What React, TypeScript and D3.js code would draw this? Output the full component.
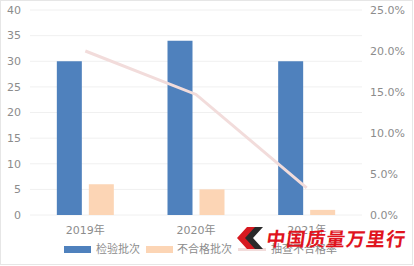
import React from "react";
import * as d3 from "d3";

const categories = ["2019年", "2020年", "2021年"];
const inspected = [30, 34, 30];
const failed = [6, 5, 1];
const failRate = [0.2, 0.147, 0.033];
const leftTicks = [0, 5, 10, 15, 20, 25, 30, 35, 40];
const rightTicks = [0, 0.05, 0.1, 0.15, 0.2, 0.25];
const seriesNames = ["检验批次", "不合格批次", "抽查不合格率"];
const colors = ["#4f81bd", "#fcd5b5", "#f2dcdb"];

const W = 414, H = 266;
const plot = { left: 30, right: 362, top: 10, bottom: 215 };
const font = "'DejaVu Sans', 'Noto Sans CJK SC', sans-serif";
const textColor = "#8c8c8c";

export default function App() {
  const x = d3.scaleBand().domain(categories).range([plot.left, plot.right]);
  const yL = d3.scaleLinear().domain([0, 40]).range([plot.bottom, plot.top]);
  const yR = d3.scaleLinear().domain([0, 0.25]).range([plot.bottom, plot.top]);
  const barW = 25, gap = 7;
  const line = d3
    .line<number>()
    .x((_, i) => (x(categories[i]) as number) + x.bandwidth() / 2)
    .y((d) => yR(d));
  const fmt = d3.format(".1%");

  const legendItems = [
    { x: 64, textX: 96 },
    { x: 146, textX: 177 },
    { x: 238, textX: 271 },
  ];

  return (
    <svg width={W} height={H} style={{ position: "absolute", left: 0, top: 0 }}>
      <rect x={0} y={0} width={W} height={H} fill="#fff" />
      <rect x={0.5} y={0.5} width={412} height={264} fill="none" stroke="#e6e6e6" />
      {leftTicks.map((t) => (
        <g key={"l" + t}>
          <line x1={plot.left} x2={plot.right} y1={yL(t)} y2={yL(t)} stroke="#f0f0f0" />
          <text x={21} y={yL(t)} dy="0.35em" textAnchor="end" fontSize={11} fill={textColor} fontFamily={font}>
            {t}
          </text>
        </g>
      ))}
      {rightTicks.map((t) => (
        <text key={"r" + t} x={370} y={yR(t)} dy="0.35em" fontSize={11} fill={textColor} fontFamily={font}>
          {fmt(t)}
        </text>
      ))}
      {categories.map((c, i) => {
        const cx = (x(c) as number) + x.bandwidth() / 2;
        return (
          <g key={c}>
            <rect x={cx - gap / 2 - barW} y={yL(inspected[i])} width={barW} height={plot.bottom - yL(inspected[i])} fill={colors[0]} />
            <rect x={cx + gap / 2} y={yL(failed[i])} width={barW} height={plot.bottom - yL(failed[i])} fill={colors[1]} />
            <text x={cx} y={230} dy="0.35em" textAnchor="middle" fontSize={11} fill={textColor} fontFamily={font}>
              {c}
            </text>
          </g>
        );
      })}
      <path d={line(failRate) as string} fill="none" stroke={colors[2]} strokeWidth={3} />
      {legendItems.map((l, i) => (
        <g key={i}>
          {i < 2 ? (
            <rect x={l.x} y={246} width={27} height={7} fill={colors[i]} />
          ) : (
            <line x1={l.x} x2={l.x + 28} y1={249.5} y2={249.5} stroke={colors[2]} strokeWidth={3} />
          )}
          <text x={l.textX} y={249.5} dy="0.35em" fontSize={11} fill={textColor} fontFamily={font}>
            {seriesNames[i]}
          </text>
        </g>
      ))}
      {/* watermark logo */}
      <g>
        <polygon points="247,227 256,227 246,238 256,249 247,249 237,238" fill="#d71920" />
        <polygon points="255,227 263,227 253,238 263,249 255,249 245,238" fill="#2a2a2a" />
        <text x={266} y={246} fontSize={19} fontWeight="bold" fill="#e0141e" fontFamily="'Noto Sans CJK SC', sans-serif" transform="skewX(-8) translate(34,0)" letterSpacing={1}>
          中国质量万里行
        </text>
      </g>
    </svg>
  );
}
